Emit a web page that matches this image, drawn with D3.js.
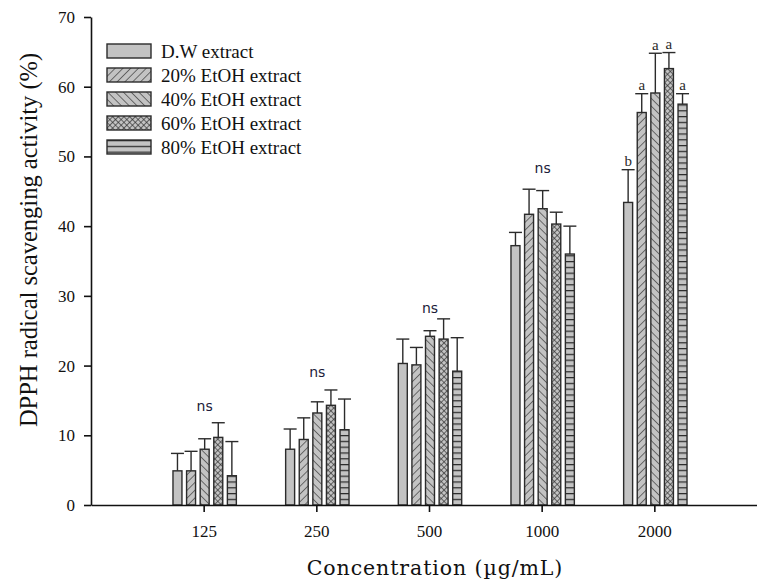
<!DOCTYPE html>
<html>
<head>
<meta charset="utf-8">
<script src="https://cdn.jsdelivr.net/npm/d3@7"></script>
<style>
  html, body { margin: 0; padding: 0; background: #fff; }
  svg { display: block; }
</style>
</head>
<body>
<svg id="chart" width="757" height="581"></svg>
<script>
// ---------- data ----------
const categories = ["125", "250", "500", "1000", "2000"];
const seriesNames = ["D.W extract", "20% EtOH extract", "40% EtOH extract", "60% EtOH extract", "80% EtOH extract"];
const dwMean  = [4.9, 8.0, 20.3, 37.2, 43.4];
const dwSd    = [2.5, 2.9, 3.5, 1.9, 4.7];
const e20Mean = [4.9, 9.4, 20.1, 41.7, 56.3];
const e20Sd   = [2.8, 3.1, 2.5, 3.6, 2.7];
const e40Mean = [8.0, 13.2, 24.2, 42.5, 59.1];
const e40Sd   = [1.5, 1.6, 0.8, 2.6, 5.7];
const e60Mean = [9.7, 14.3, 23.8, 40.3, 62.6];
const e60Sd   = [2.1, 2.2, 2.9, 1.7, 2.3];
const e80Mean = [4.2, 10.8, 19.2, 36.0, 57.5];
const e80Sd   = [4.9, 4.4, 4.8, 4.0, 1.5];
const yTicks = [0, 10, 20, 30, 40, 50, 60, 70];
const groupLabels = ["ns", "ns", "ns", "ns", null];
const groupLabelLevel = [14.2, 19.1, 28.3, 48.3, null];
const letters2000 = ["b", "a", "a", "a", "a"];

const means = [dwMean, e20Mean, e40Mean, e60Mean, e80Mean];
const sds = [dwSd, e20Sd, e40Sd, e60Sd, e80Sd];

// ---------- setup ----------
const svg = d3.select("#chart");
const x0 = 91, yBase = 505, yTop = 17;

const x = d3.scalePoint().domain(categories).range([x0, 767]).padding(1);
const xs = d3.scaleBand().domain(seriesNames).range([-33, 35]).paddingInner(0.34).paddingOuter(0.17);
const y = d3.scaleLinear().domain([0, 70]).range([yBase, yTop]);

const gray = "#c3c3c3", ink = "#2b2b2b";

// patterns
const defs = svg.append("defs");
function linePattern(id, rot, size, sw) {
  const p = defs.append("pattern").attr("id", id).attr("patternUnits", "userSpaceOnUse")
    .attr("width", size).attr("height", size).attr("patternTransform", `rotate(${rot})`);
  p.append("rect").attr("width", size).attr("height", size).attr("fill", gray);
  p.append("line").attr("x1", 0).attr("y1", 0).attr("x2", 0).attr("y2", size)
    .attr("stroke", ink).attr("stroke-width", sw);
}
linePattern("p20", 45, 5.5, 1.2);
linePattern("p40", -45, 5.5, 1.2);
// crosshatch
(function () {
  const s = 4;
  const p = defs.append("pattern").attr("id", "p60").attr("patternUnits", "userSpaceOnUse")
    .attr("width", s).attr("height", s).attr("patternTransform", "rotate(45)");
  p.append("rect").attr("width", s).attr("height", s).attr("fill", gray);
  p.append("line").attr("x1", 0).attr("y1", 0).attr("x2", 0).attr("y2", s).attr("stroke", ink).attr("stroke-width", 1.3);
  p.append("line").attr("x1", 0).attr("y1", 0).attr("x2", s).attr("y2", 0).attr("stroke", ink).attr("stroke-width", 1.3);
})();
(function () {
  const p = defs.append("pattern").attr("id", "p80").attr("patternUnits", "userSpaceOnUse")
    .attr("width", 6).attr("height", 5.8);
  p.append("rect").attr("width", 6).attr("height", 5.8).attr("fill", gray);
  p.append("line").attr("x1", 0).attr("y1", 0.6).attr("x2", 6).attr("y2", 0.6).attr("stroke", ink).attr("stroke-width", 1.3);
})();
const fills = [gray, "url(#p20)", "url(#p40)", "url(#p60)", "url(#p80)"];

// ---------- bars ----------
const rows = [];
categories.forEach((c, ci) => {
  seriesNames.forEach((s, si) => {
    rows.push({ c, ci, s, si, m: means[si][ci], sd: sds[si][ci] });
  });
});

const bars = svg.append("g");
// error bars (upward only)
bars.selectAll("line.err").data(rows).join("line")
  .attr("x1", d => x(d.c) + xs(d.s) + xs.bandwidth() / 2)
  .attr("x2", d => x(d.c) + xs(d.s) + xs.bandwidth() / 2)
  .attr("y1", d => y(d.m))
  .attr("y2", d => y(d.m + d.sd))
  .attr("stroke", ink).attr("stroke-width", 1.4);
bars.selectAll("line.cap").data(rows).join("line")
  .attr("x1", d => x(d.c) + xs(d.s) + xs.bandwidth() / 2 - 6.5)
  .attr("x2", d => x(d.c) + xs(d.s) + xs.bandwidth() / 2 + 6.5)
  .attr("y1", d => y(d.m + d.sd))
  .attr("y2", d => y(d.m + d.sd))
  .attr("stroke", ink).attr("stroke-width", 1.4);
bars.selectAll("rect").data(rows).join("rect")
  .attr("x", d => x(d.c) + xs(d.s))
  .attr("y", d => y(d.m))
  .attr("width", xs.bandwidth())
  .attr("height", d => y(0) - y(d.m))
  .attr("fill", d => fills[d.si])
  .attr("stroke", ink).attr("stroke-width", 1.4);

// ---------- axes ----------
const yAxis = d3.axisLeft(y).tickValues(yTicks).tickSize(7).tickSizeOuter(0).tickPadding(9);
const gy = svg.append("g").attr("transform", `translate(${x0},0)`).call(yAxis);
const xAxis = d3.axisBottom(x).tickSize(7).tickSizeOuter(0).tickPadding(13);
const gx = svg.append("g").attr("transform", `translate(0,${yBase})`).call(xAxis);
[gx, gy].forEach(g => {
  g.selectAll("path, line").attr("stroke", "#111").attr("stroke-width", 1.6);
  g.selectAll("text").attr("font-family", "'Liberation Serif', 'Times New Roman', serif")
    .attr("font-size", 17).attr("fill", "#111");
});

// ---------- annotations ----------
svg.append("g").selectAll("text").data(categories.filter((c, i) => groupLabels[i]))
  .join("text")
  .attr("x", c => x(c) + 1)
  .attr("y", c => y(groupLabelLevel[categories.indexOf(c)]))
  .attr("text-anchor", "middle").attr("dominant-baseline", "central")
  .attr("font-family", "'DejaVu Sans', Verdana, sans-serif").attr("font-size", 14)
  .attr("fill", "#1c1c3a")
  .text(c => groupLabels[categories.indexOf(c)]);

svg.append("g").selectAll("text").data(rows.filter(d => d.ci === 4))
  .join("text")
  .attr("x", d => x(d.c) + xs(d.s) + xs.bandwidth() / 2)
  .attr("y", d => y(d.m + d.sd) - 3.5)
  .attr("text-anchor", "middle")
  .attr("font-family", "'Liberation Serif', 'Times New Roman', serif").attr("font-size", 15)
  .attr("fill", "#2a2a2a")
  .text(d => letters2000[d.si]);

// ---------- titles ----------
svg.append("text")
  .attr("transform", "translate(28,240) rotate(-90)")
  .attr("text-anchor", "middle").attr("dominant-baseline", "central")
  .attr("font-family", "'Liberation Serif', 'Times New Roman', serif").attr("font-size", 24.5)
  .attr("fill", "#111")
  .text("DPPH radical scavenging activity (%)");

svg.append("text")
  .attr("x", 435).attr("y", 575)
  .attr("text-anchor", "middle")
  .attr("font-family", "'DejaVu Serif', serif").attr("font-size", 20.5)
  .attr("letter-spacing", 0.9)
  .attr("fill", "#111")
  .text("Concentration (\u00b5g/mL)");

// ---------- legend ----------
const legend = svg.append("g").attr("transform", "translate(107,44)");
const li = legend.selectAll("g").data(seriesNames).join("g")
  .attr("transform", (d, i) => `translate(0,${i * 24})`);
li.append("rect").attr("width", 44).attr("height", 14)
  .attr("fill", (d, i) => fills[i]).attr("stroke", ink).attr("stroke-width", 1.4);
li.append("text").attr("x", 54).attr("y", 7.5).attr("dominant-baseline", "central")
  .attr("font-family", "'Liberation Serif', 'Times New Roman', serif").attr("font-size", 19)
  .attr("fill", "#111")
  .text(d => d);
</script>
</body>
</html>
